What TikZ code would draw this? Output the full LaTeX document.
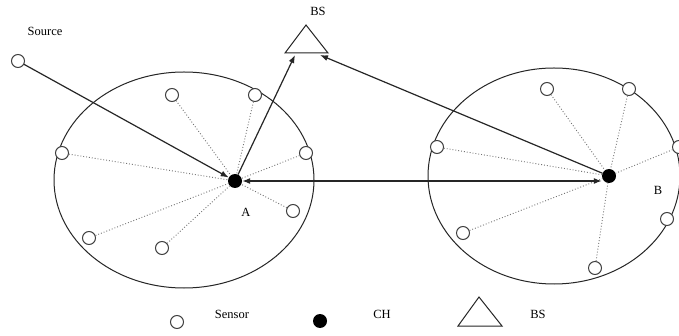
\documentclass[tikz,border=0pt]{standalone}
\usepackage{fontspec}
\setmainfont{Liberation Serif}
\usetikzlibrary{arrows.meta}
\begin{document}
\begin{tikzpicture}[x=1pt,y=-1pt,
  sensor/.style={circle,draw=black!75,line width=1pt,fill=white,minimum size=13pt,inner sep=0pt},
  chnode/.style={circle,fill=black,minimum size=14pt,inner sep=0pt},
  cluster/.style={draw=black!85,line width=1pt},
  link/.style={draw=black!55,dotted,line width=0.9pt},
  msg/.style={draw=black!85,line width=1.2pt,-{Latex[length=8pt,width=6pt]}},
  lbl/.style={font=\fontsize{12.5}{14}\selectfont,inner sep=0pt},
  tri/.style={draw=black!85,line width=1pt,fill=white}]
\useasboundingbox[fill=white] (0,0) rectangle (679,336);
% clusters
\draw[cluster] (184,180) ellipse [x radius=130,y radius=108];
\draw[cluster] (554,176) ellipse [x radius=126,y radius=108];
% CHs
\node[chnode] (A) at (235,181) {};
\node[chnode] (B) at (609,176) {};
% sensors
\node[sensor] (src) at (18,61) {};
\node[sensor] (a1) at (172,95) {};
\node[sensor] (a2) at (255,95) {};
\node[sensor] (a3) at (62,153) {};
\node[sensor] (a4) at (306,153) {};
\node[sensor] (a5) at (293,211) {};
\node[sensor] (a6) at (89,238) {};
\node[sensor] (a7) at (162,248) {};
\node[sensor] (b1) at (547,89) {};
\node[sensor] (b2) at (629,89) {};
\node[sensor] (b3) at (437,147) {};
\node[sensor] (b4) at (679,147) {};
\node[sensor] (b5) at (667,219) {};
\node[sensor] (b6) at (463,233) {};
\node[sensor] (b7) at (595,268) {};
% dotted links
\foreach \s in {a1,a2,a3,a4,a5,a6,a7} \draw[link] (\s) -- (A);
\foreach \s in {b1,b2,b3,b4,b6,b7} \draw[link] (\s) -- (B);
% base station
\draw[tri] (306,25) -- (328,53) -- (285,53) -- cycle;
\coordinate (bsl) at (295,55);
\coordinate (bsr) at (320,55);
\node[lbl] (bslbl) at (318,11) {BS};
% messages
\draw[msg] (src) -- (A);
\draw[msg] (A) -- (bsl);
\draw[msg] (B) -- (bsr);
\draw[msg,{Latex[length=8pt,width=6pt]}-{Latex[length=8pt,width=6pt]}] (A.east) -- (A.east -| B.west);
% labels
\node[lbl] (srclbl) at (45,31) {Source};
\node[lbl] (Albl) at (246,212) {A};
\node[lbl] (Blbl) at (658,190) {B};
% legend
\node[sensor] (lgs) at (177,322) {};
\node[lbl] (lgst) at (232,314) {Sensor};
\node[chnode] (lgc) at (320,321) {};
\node[lbl] (lgct) at (382,314) {CH};
\draw[tri] (479,297) -- (502,326) -- (458,326) -- cycle;
\node[lbl] (lgbt) at (538,314) {BS};
\end{tikzpicture}
\end{document}
